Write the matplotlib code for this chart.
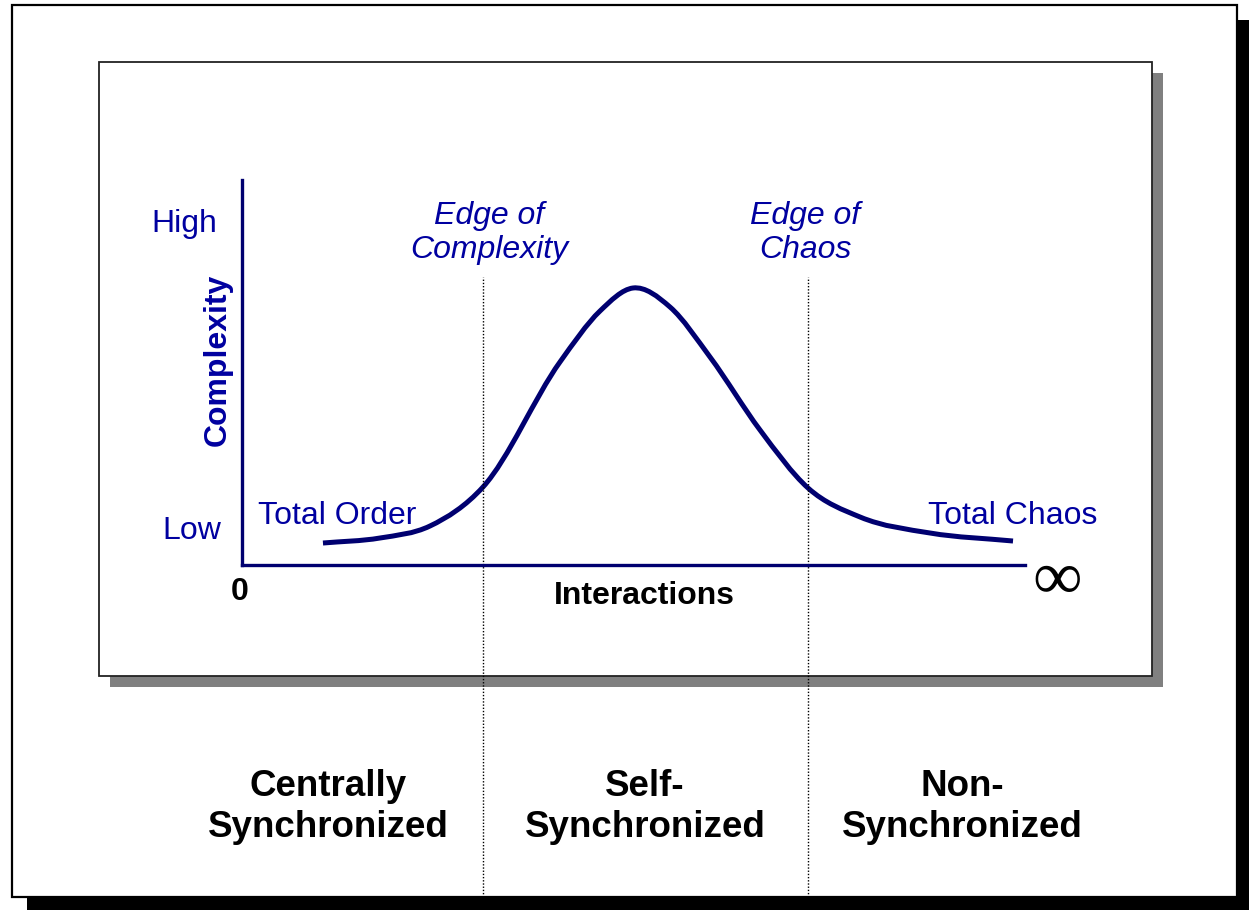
import matplotlib
matplotlib.use("Agg")
import matplotlib.pyplot as plt
from matplotlib.patches import Rectangle, PathPatch
from matplotlib.path import Path
import numpy as np

plt.rcParams['font.family'] = ['Liberation Sans', 'DejaVu Sans']

# curve (interactions 0..100, complexity 0..100)
interactions = [10.34, 17.62, 24.01, 30.78, 40.61, 45.72, 49.94,
                54.66, 59.77, 66.16, 72.29, 78.93, 87.87, 98.47]
complexity = [5.71, 7.01, 10.13, 20.26, 52.73, 65.97, 71.95,
              67.01, 54.03, 35.06, 20.0, 12.47, 8.31, 6.23]

# the two edges (dotted lines)
edge_x = [30.8, 72.3]
edge_labels = ["Edge of\nComplexity", "Edge of\nChaos"]
edge_label_px = [489, 805]

regimes = ["Centrally\nSynchronized", "Self-\nSynchronized", "Non-\nSynchronized"]
regime_px = [328, 645, 962]

navy = "#000070"
blue = "#0000a0"

fig = plt.figure(figsize=(12.49, 9.10), dpi=100)

# background layer in pixel units for the frames
bg = fig.add_axes([0, 0, 1, 1])
bg.set_xlim(0, 1249)
bg.set_ylim(910, 0)
bg.axis("off")

bg.add_patch(Rectangle((27, 20), 1222, 890, facecolor="black", edgecolor="none"))
bg.add_patch(Rectangle((12, 5), 1225, 892, facecolor="white", edgecolor="black", lw=1.6))
bg.add_patch(Rectangle((110, 73), 1053, 614, facecolor="#808080", edgecolor="none"))
bg.add_patch(Rectangle((99, 62), 1053, 614, facecolor="white", edgecolor="#222222", lw=1.3))

# chart axes
ax = fig.add_axes([242 / 1249, (910 - 565) / 910, 783 / 1249, 385 / 910])
ax.set_xlim(0, 100)
ax.set_ylim(0, 100)
ax.patch.set_visible(False)
for s in ["top", "right"]:
    ax.spines[s].set_visible(False)
for s in ["left", "bottom"]:
    ax.spines[s].set_color(navy)
    ax.spines[s].set_linewidth(2.4)
ax.set_xticks([])
ax.set_yticks([])

# smooth curve through the read points: bezier segments with hermite slopes in x
x = np.array(interactions)
y = np.array(complexity)
h = np.diff(x)
d = np.diff(y) / h
m = np.empty_like(y)
m[0], m[-1] = d[0], d[-1]
m[1:-1] = (d[:-1] * h[1:] + d[1:] * h[:-1]) / (h[:-1] + h[1:])
verts = [(x[0], y[0])]
codes = [Path.MOVETO]
for i in range(len(x) - 1):
    verts += [(x[i] + h[i] / 3, y[i] + m[i] * h[i] / 3),
              (x[i + 1] - h[i] / 3, y[i + 1] - m[i + 1] * h[i] / 3),
              (x[i + 1], y[i + 1])]
    codes += [Path.CURVE4] * 3
ax.add_patch(PathPatch(Path(verts, codes), facecolor="none", edgecolor=navy,
                       lw=3.6, capstyle="butt", joinstyle="round"))

ax.vlines(edge_x, -0.862, 0.748, transform=ax.get_xaxis_transform(), clip_on=False,
          colors="black", lw=1.0, linestyles=(0, (1, 1.3)))

# labels
bg.text(184, 224, "High", color=blue, fontsize=23, ha="center", va="center")
bg.text(192, 531, "Low", color=blue, fontsize=23, ha="center", va="center")
bg.text(218, 360, "Complexity", color=blue, fontsize=23, fontweight="bold",
        rotation=90, ha="center", va="center")
bg.text(258, 516, "Total Order", color=blue, fontsize=23, ha="left", va="center")
bg.text(1097, 516, "Total Chaos", color=blue, fontsize=23, ha="right", va="center")
bg.text(240, 592, "0", color="black", fontsize=23, fontweight="bold", ha="center", va="center")
bg.text(644, 596, "Interactions", color="black", fontsize=23, fontweight="bold",
        ha="center", va="center")
bg.text(1057, 582, "\u221e", color="black", fontsize=50, family=["Liberation Serif", "DejaVu Serif"],
        ha="center", va="center")

for px, lab in zip(edge_label_px, edge_labels):
    bg.text(px, 233, lab, color=blue, fontsize=23, fontstyle="italic",
            ha="center", va="center", linespacing=1.2)

for px, lab in zip(regime_px, regimes):
    bg.text(px, 807, lab, color="black", fontsize=26.5, fontweight="bold",
            ha="center", va="center", linespacing=1.25)

fig.savefig("out.png", dpi=100)
